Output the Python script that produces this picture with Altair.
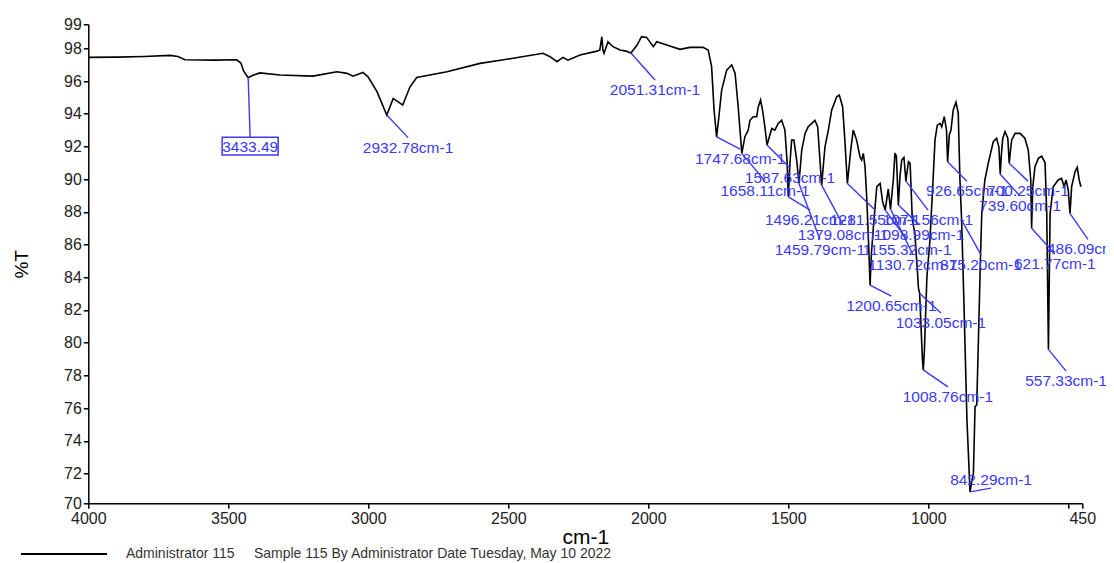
import altair as alt
import pandas as pd

# ---------------- spectrum ----------------
wavenumber = [
    4000, 3900, 3800, 3708, 3680, 3655, 3550, 3470, 3455, 3445, 3429, 3412, 3387,
    3316, 3198, 3112, 3076, 3055, 3019, 3001, 2969, 2934, 2911, 2893, 2877, 2851,
    2827, 2719, 2601, 2483, 2376, 2351, 2326, 2305, 2287, 2244, 2183, 2173, 2166,
    2162, 2158, 2144, 2126, 2101, 2080, 2062, 2040, 2024, 2006, 1982, 1970, 1934,
    1887, 1851, 1805, 1786, 1774, 1765, 1756, 1748, 1738, 1720, 1702, 1690, 1679,
    1666, 1655, 1643, 1637, 1625, 1613, 1607, 1599, 1591, 1583, 1576, 1559, 1548,
    1536, 1524, 1512, 1504, 1500, 1494, 1488, 1480, 1470, 1462, 1452, 1440, 1429,
    1416, 1405, 1395, 1387, 1381, 1369, 1357, 1345, 1327, 1318, 1306, 1298, 1289,
    1277, 1268, 1256, 1244, 1238, 1232, 1226, 1220, 1213, 1208, 1203, 1196, 1184,
    1172, 1163, 1154, 1143, 1135, 1125, 1119, 1114, 1107, 1101, 1095, 1087, 1080,
    1071, 1065, 1057, 1048, 1039, 1035, 1031, 1026, 1021, 1018, 1014, 1005, 994,
    983, 976, 968, 958, 952, 943, 935, 931, 925, 919, 911, 901, 893, 887, 881,
    873, 862, 851, 844, 839, 833, 827, 821, 814, 809, 798, 786, 768, 756, 748,
    743, 739, 734, 726, 716, 711, 705, 702, 690, 672, 655, 643, 634, 631, 627,
    619, 607, 595, 583, 577, 571, 565, 554, 536, 524, 515, 508, 500, 494, 488,
    476, 468, 461, 455,
]
transmittance = [
    97.45, 97.46, 97.50, 97.57, 97.50, 97.30, 97.28, 97.30, 97.10, 96.60, 96.21, 96.35, 96.50,
    96.37, 96.30, 96.57, 96.47, 96.30, 96.53, 96.26, 95.35, 93.92, 94.94, 94.73, 94.53, 95.65,
    96.22, 96.57, 97.08, 97.39, 97.70, 97.49, 97.18, 97.45, 97.28, 97.59, 97.83, 97.90, 98.71,
    97.90, 97.70, 98.40, 98.10, 97.90, 97.83, 97.71, 98.20, 98.71, 98.67, 98.10, 98.40, 98.20,
    97.94, 98.06, 98.06, 97.90, 96.90, 94.20, 92.59, 93.80, 95.45, 96.67, 96.98, 96.47, 94.43,
    91.58, 92.60, 93.00, 93.60, 93.82, 93.82, 94.43, 94.84, 94.12, 93.10, 92.09, 93.10, 93.00,
    93.41, 93.60, 93.00, 90.97, 88.92, 91.00, 92.39, 92.39, 91.17, 89.74, 91.78, 92.80, 93.20,
    93.41, 93.60, 93.20, 91.17, 89.64, 91.98, 93.00, 94.23, 95.04, 95.14, 94.43, 92.39, 89.74,
    91.78, 93.00, 92.39, 91.37, 91.17, 91.58, 90.76, 88.92, 86.00, 83.52, 85.50, 87.09, 89.54,
    89.74, 88.60, 88.11, 89.40, 88.17, 89.95, 91.60, 91.40, 88.42, 90.20, 91.17, 91.33, 89.88,
    91.07, 90.97, 87.50, 86.68, 84.40, 83.30, 83.03, 81.00, 79.00, 78.34, 79.50, 84.00, 86.30,
    89.95, 92.40, 93.30, 93.41, 93.20, 93.82, 93.00, 91.06, 92.70, 93.00, 94.23, 94.70, 94.02, 89.95, 87.50,
    82.60, 75.30, 70.88, 71.60, 72.00, 76.08, 76.20, 80.15, 85.00, 87.90, 89.95, 90.97, 92.29, 92.50, 91.98,
    90.30, 91.50, 92.50, 92.90, 92.50, 90.97, 92.00, 92.40, 92.80, 92.80, 92.50, 91.78, 89.95, 87.00, 89.50,
    90.76, 91.27, 91.41, 91.00, 87.90, 79.59, 87.90, 89.54, 89.95, 90.05, 89.54, 89.95, 89.33, 87.91, 89.54,
    90.45, 90.72, 89.95, 89.54,
]

series_name = ("Administrator 115" + "\u00a0" * 5 +
               "Sample 115 By Administrator Date Tuesday, May 10 2022")

# ---------------- peak annotations ----------------
peak_text = [
    "3433.49", "2932.78cm-1", "2051.31cm-1", "1747.68cm-1", "1587.63cm-1",
    "1658.11cm-1", "1496.21cm-1", "1459.79cm-1", "1379.08cm-1", "1281.55cm-1",
    "1200.65cm-1", "1155.32cm-1", "1130.72cm-1", "1098.99cm-1", "1071.56cm-1",
    "1033.05cm-1", "1008.76cm-1", "926.65cm-1", "875.20cm-1", "842.29cm-1",
    "739.60cm-1", "700.25cm-1", "621.77cm-1", "486.09cm-1", "557.33cm-1",
]
peak_nu = [3429, 2934, 2062, 1756, 1576, 1666, 1500, 1462, 1381, 1289,
           1208, 1154, 1135, 1107, 1080, 1031, 1018, 931, 881, 851,
           743, 711, 631, 494, 571]
peak_T = [96.21, 93.92, 97.71, 92.59, 92.09, 91.58, 88.92, 89.74, 89.64, 89.74,
          83.52, 88.11, 88.17, 88.42, 89.88, 83.03, 78.34, 91.06, 87.50, 70.88,
          90.30, 90.97, 87.00, 87.91, 79.59]
label_nu = [3422, 2858, 1976, 1672, 1494, 1583, 1422, 1387, 1305, 1190,
            1132, 1076, 1055, 1033, 1001, 955, 930, 862, 812, 776,
            672, 644, 548, 430, 508]
label_T = [92.02, 91.99, 95.51, 91.29, 90.13, 89.33, 87.56, 85.76, 86.67, 87.56,
           82.30, 85.76, 84.84, 86.67, 87.56, 81.26, 76.75, 89.33, 84.84, 71.66,
           88.42, 89.33, 84.87, 85.77, 77.71]
label_side = [1] * 19 + [-1] + [1] * 5      # 1: text under the leader end, -1: above
boxed = [True] + [False] * 24

spec = pd.DataFrame({"nu": wavenumber, "T": transmittance, "series": series_name})
ann = pd.DataFrame({
    "text": peak_text, "pnu": peak_nu, "pT": peak_T,
    "lnu": label_nu, "lT": label_T, "side": label_side, "boxed": boxed,
})
ann["eT"] = ann["lT"] + 0.55 * ann["side"]

FONT = "Liberation Sans"
BLUE = "#3a3af2"

xscale = alt.Scale(domain=[4000, 450], nice=False, zero=False)
yscale = alt.Scale(domain=[70.18, 99.47], nice=False, zero=False)

x_axis = alt.Axis(
    title="cm-1", values=[4000, 3500, 3000, 2500, 2000, 1500, 1000, 500, 450],
    labelExpr="datum.value == 500 ? '' : format(datum.value, 'd')",
    labelFlush=False, labelOverlap=False, titleFontSize=21, titlePadding=0,
)
y_axis = alt.Axis(
    title="%T", values=[70.18, 72, 74, 76, 78, 80, 82, 84, 86, 88, 90, 92, 94, 96, 98, 99.47],
    labelExpr="datum.value < 71 ? '70' : (datum.value > 99 ? '99' : format(datum.value, 'd'))",
    labelFlush=False, labelOverlap=False, titleFontSize=19, titlePadding=32,
)


def xenc(field):
    return alt.X(field, scale=xscale, axis=x_axis)


def yenc(field):
    return alt.Y(field, scale=yscale, axis=y_axis)


line = alt.Chart(spec).mark_line(strokeWidth=1.6).encode(
    x=xenc("nu:Q"), y=yenc("T:Q"),
    color=alt.Color(
        "series:N", scale=alt.Scale(range=["black"]),
        legend=alt.Legend(
            title=None, orient="none", legendX=-68.3, legendY=485.7,
            symbolType="stroke", symbolSize=7396, symbolStrokeWidth=2,
            labelFont=FONT, labelFontSize=14, labelColor="#333333",
            labelOffset=18, labelLimit=800, padding=0,
        ),
    ),
)

leaders = alt.Chart(ann).mark_rule(color=BLUE, strokeWidth=1.4).encode(
    x=xenc("pnu:Q"), y=yenc("pT:Q"), x2="lnu:Q", y2="eT:Q",
)

labels = alt.Chart(ann).mark_text(
    font=FONT, fontSize=15.5, color=BLUE, align="center", baseline="middle", dy=1,
).encode(x=xenc("lnu:Q"), y=yenc("lT:Q"), text="text:N")

box = alt.Chart(ann).transform_filter("datum.boxed").mark_point(
    shape="M-1,-0.32L1,-0.32L1,0.32L-1,0.32Z", size=3136, filled=False,
    color=BLUE, strokeWidth=1.5, opacity=1,
).encode(x=xenc("lnu:Q"), y=yenc("lT:Q"))

chart = alt.layer(line, leaders, box, labels).properties(
    width=994, height=479,
    autosize=alt.AutoSizeParams(type="none"),
    padding={"left": 80.3, "top": 16.3, "right": 23.7, "bottom": 59},
).configure_view(stroke=None).configure_axis(
    grid=False, domainColor="black", domainWidth=1.5, tickColor="black",
    tickWidth=1.5, tickSize=5, labelFont=FONT, labelFontSize=16,
    labelColor="#222222", labelPadding=2, titleFont=FONT, labelOverlap=False,
    titleFontWeight="normal", titleColor="black",
)

chart.save("out.html", embed_options={"renderer": "svg", "actions": False})
